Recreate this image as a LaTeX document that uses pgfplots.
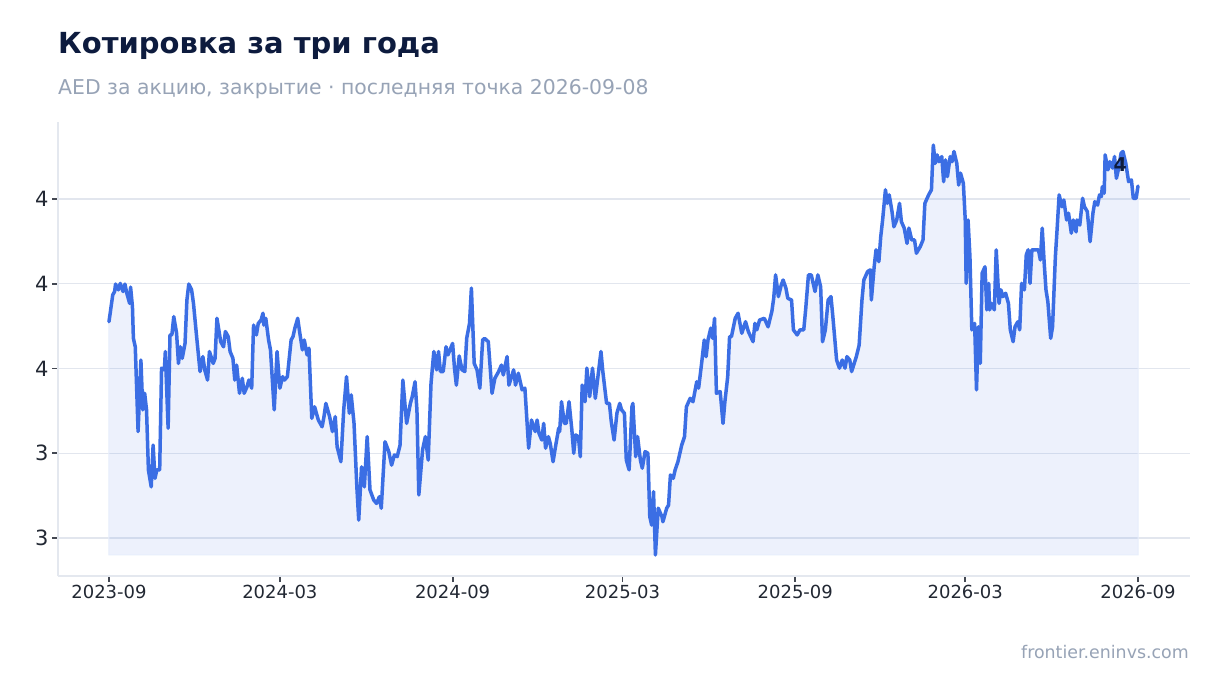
\documentclass[border=0pt]{standalone}
\usepackage{fontspec}
\setmainfont{DejaVu Sans}
\usepackage{pgfplots}
\usepackage{pgfplotstable}
\pgfplotsset{compat=1.18}
\definecolor{linec}{HTML}{3B6EE4}
\definecolor{titlec}{HTML}{0D1B3E}
\definecolor{subc}{HTML}{97A3B6}
\definecolor{gridc}{HTML}{E2E6EE}
\definecolor{spinec}{HTML}{E4E8EF}
\definecolor{tickc}{HTML}{222833}
% closing price, day = days since 2023-09-01
\pgfplotstableread{
day price
0 3.638
4 3.717
6 3.727
7 3.749
10 3.732
12 3.751
15 3.727
17 3.749
19 3.722
22 3.692
23 3.740
25 3.682
26 3.589
28 3.564
31 3.314
34 3.525
36 3.378
38 3.427
40 3.378
42 3.201
45 3.151
47 3.274
49 3.176
51 3.201
54 3.201
56 3.501
59 3.496
60 3.550
63 3.324
65 3.599
67 3.599
69 3.653
72 3.604
74 3.515
76 3.564
78 3.530
81 3.574
83 3.702
85 3.749
88 3.732
90 3.692
93 3.604
97 3.491
100 3.535
102 3.496
105 3.466
107 3.550
111 3.515
113 3.530
115 3.648
119 3.579
122 3.564
124 3.609
127 3.594
129 3.550
132 3.530
134 3.466
136 3.510
139 3.427
142 3.471
144 3.427
147 3.446
149 3.466
152 3.442
154 3.628
157 3.599
159 3.633
162 3.643
164 3.663
165 3.628
167 3.648
170 3.584
172 3.555
176 3.378
179 3.550
182 3.442
185 3.476
187 3.466
190 3.476
194 3.584
196 3.594
198 3.619
201 3.648
203 3.609
206 3.555
208 3.584
211 3.540
213 3.560
216 3.353
219 3.387
223 3.348
227 3.328
229 3.358
231 3.397
235 3.358
238 3.314
241 3.358
243 3.269
247 3.225
250 3.378
253 3.476
256 3.368
258 3.422
261 3.338
264 3.151
266 3.053
269 3.210
272 3.151
275 3.299
278 3.142
282 3.112
285 3.102
288 3.122
290 3.088
294 3.284
298 3.255
301 3.215
304 3.245
307 3.240
310 3.274
313 3.466
317 3.338
321 3.397
323 3.417
326 3.461
328 3.378
330 3.127
334 3.260
337 3.299
340 3.230
343 3.456
346 3.550
349 3.496
351 3.550
353 3.491
356 3.491
359 3.564
361 3.540
366 3.574
368 3.501
370 3.451
373 3.537
376 3.496
379 3.491
381 3.589
384 3.633
386 3.737
389 3.515
392 3.496
395 3.442
398 3.584
400 3.589
404 3.579
408 3.427
411 3.471
415 3.491
418 3.510
420 3.481
424 3.535
426 3.451
431 3.496
433 3.451
436 3.486
440 3.437
443 3.442
447 3.265
450 3.348
454 3.314
456 3.348
458 3.309
461 3.289
463 3.338
465 3.265
468 3.299
470 3.279
473 3.225
475 3.260
479 3.324
480 3.314
482 3.402
485 3.338
487 3.338
490 3.402
493 3.319
495 3.250
497 3.304
500 3.299
502 3.240
504 3.451
507 3.402
509 3.501
512 3.417
515 3.501
518 3.412
521 3.481
524 3.550
526 3.491
530 3.397
533 3.397
535 3.343
538 3.289
541 3.368
544 3.397
546 3.378
549 3.368
551 3.230
554 3.201
557 3.387
558 3.397
561 3.240
563 3.299
566 3.230
568 3.206
571 3.255
574 3.250
576 3.063
578 3.038
580 3.137
582 2.950
585 3.088
589 3.063
590 3.048
594 3.088
596 3.097
598 3.186
601 3.176
603 3.201
606 3.225
610 3.274
613 3.299
615 3.387
619 3.412
622 3.402
626 3.461
628 3.442
631 3.510
634 3.584
636 3.535
638 3.584
641 3.619
643 3.589
645 3.648
647 3.427
651 3.432
654 3.338
656 3.402
659 3.476
661 3.594
663 3.594
667 3.648
670 3.663
674 3.604
678 3.638
681 3.609
686 3.579
688 3.633
690 3.614
693 3.643
698 3.648
702 3.623
706 3.668
708 3.707
710 3.776
713 3.712
716 3.746
718 3.761
721 3.737
723 3.707
727 3.702
729 3.614
733 3.599
736 3.614
740 3.614
742 3.673
745 3.776
748 3.776
752 3.727
755 3.776
758 3.741
760 3.579
763 3.614
766 3.702
769 3.712
771 3.653
775 3.525
778 3.501
781 3.525
784 3.501
786 3.535
789 3.525
791 3.491
796 3.535
799 3.569
802 3.702
804 3.761
808 3.786
811 3.791
812 3.702
815 3.800
817 3.850
820 3.815
822 3.889
824 3.938
827 4.027
829 3.987
831 4.012
834 3.963
836 3.918
839 3.938
842 3.987
844 3.933
847 3.914
850 3.869
852 3.914
855 3.879
858 3.879
860 3.840
864 3.859
867 3.879
869 3.987
873 4.012
876 4.027
878 4.159
880 4.105
882 4.130
884 4.110
887 4.125
889 4.051
891 4.115
893 4.066
896 4.125
898 4.110
900 4.140
903 4.105
905 4.041
907 4.076
910 4.046
912 3.938
913 3.751
915 3.938
917 3.830
919 3.614
922 3.633
924 3.437
926 3.623
928 3.515
930 3.781
933 3.800
935 3.673
937 3.751
938 3.673
940 3.692
943 3.673
945 3.850
948 3.692
950 3.732
952 3.712
955 3.722
958 3.692
960 3.614
963 3.579
965 3.623
968 3.638
970 3.614
972 3.751
975 3.732
977 3.835
979 3.850
981 3.751
983 3.850
986 3.850
990 3.850
992 3.820
994 3.914
996 3.815
998 3.732
1000 3.697
1003 3.589
1005 3.623
1008 3.830
1010 3.918
1012 4.012
1015 3.977
1017 3.997
1020 3.938
1022 3.958
1025 3.899
1027 3.938
1030 3.903
1031 3.938
1034 3.923
1037 4.002
1039 3.977
1042 3.963
1045 3.874
1048 3.958
1050 3.992
1053 3.982
1055 4.012
1057 4.007
1058 4.036
1060 4.017
1061 4.130
1064 4.086
1066 4.110
1069 4.091
1071 4.125
1073 4.061
1075 4.086
1078 4.135
1080 4.140
1083 4.105
1086 4.051
1089 4.056
1091 4.002
1094 4.002
1096 4.038
}\price
\begin{document}
\begin{tikzpicture}
\path[use as bounding box, fill=white] (0pt,0pt) rectangle (1220pt,-693pt);
\node[anchor=base west, font=\fontsize{29}{34}\selectfont\bfseries, text=titlec, inner sep=0pt] at (58pt,-53.5pt) {Котировка за три года};
\node[anchor=base west, font=\fontsize{20.4}{24}\selectfont, text=subc, inner sep=0pt] at (58pt,-94pt) {AED за акцию, закрытие · последняя точка 2026-09-08};
\node[anchor=base east, font=\fontsize{17.4}{20}\selectfont, text=subc, inner sep=0pt] at (1189pt,-658pt) {frontier.eninvs.com};
\begin{axis}[
  at={(58pt,-576pt)}, anchor=south west,
  width=1132pt, height=454pt, scale only axis,
  xmin=-54.3, xmax=1151.4, ymin=2.888, ymax=4.227,
  axis x line*=bottom, axis y line*=left,
  axis line style={spinec, line width=2pt, -},
  xtick={0,182,366,547,731,912,1096},
  xticklabels={2023-09,2024-03,2024-09,2025-03,2025-09,2026-03,2026-09},
  ytick={3,3.25,3.5,3.75,4},
  yticklabels={3,3,4,4,4},
  minor tick num=0,
  tick align=outside, major tick length=6pt,
  tick style={tickc!85, line width=1.8pt},
  ymajorgrids, grid style={gridc, line width=1.5pt},
  xticklabel style={font=\fontsize{18}{21}\selectfont, text=tickc},
  yticklabel style={font=\fontsize{21}{24}\selectfont, text=tickc},
  clip=false,
]
\addplot[draw=linec!12, line width=1pt, fill=linec, fill opacity=0.09] table[x=day, y=price] {\price}
  -- (axis cs:1096,2.95) -- (axis cs:0,2.95) -- cycle;
\addplot[linec, line width=3.5pt, line join=round, line cap=round] table[x=day, y=price] {\price};
\node[font=\fontsize{19}{22}\selectfont\bfseries, text=titlec] at (axis cs:1077,4.10) {4};
\end{axis}
\end{tikzpicture}
\end{document}
